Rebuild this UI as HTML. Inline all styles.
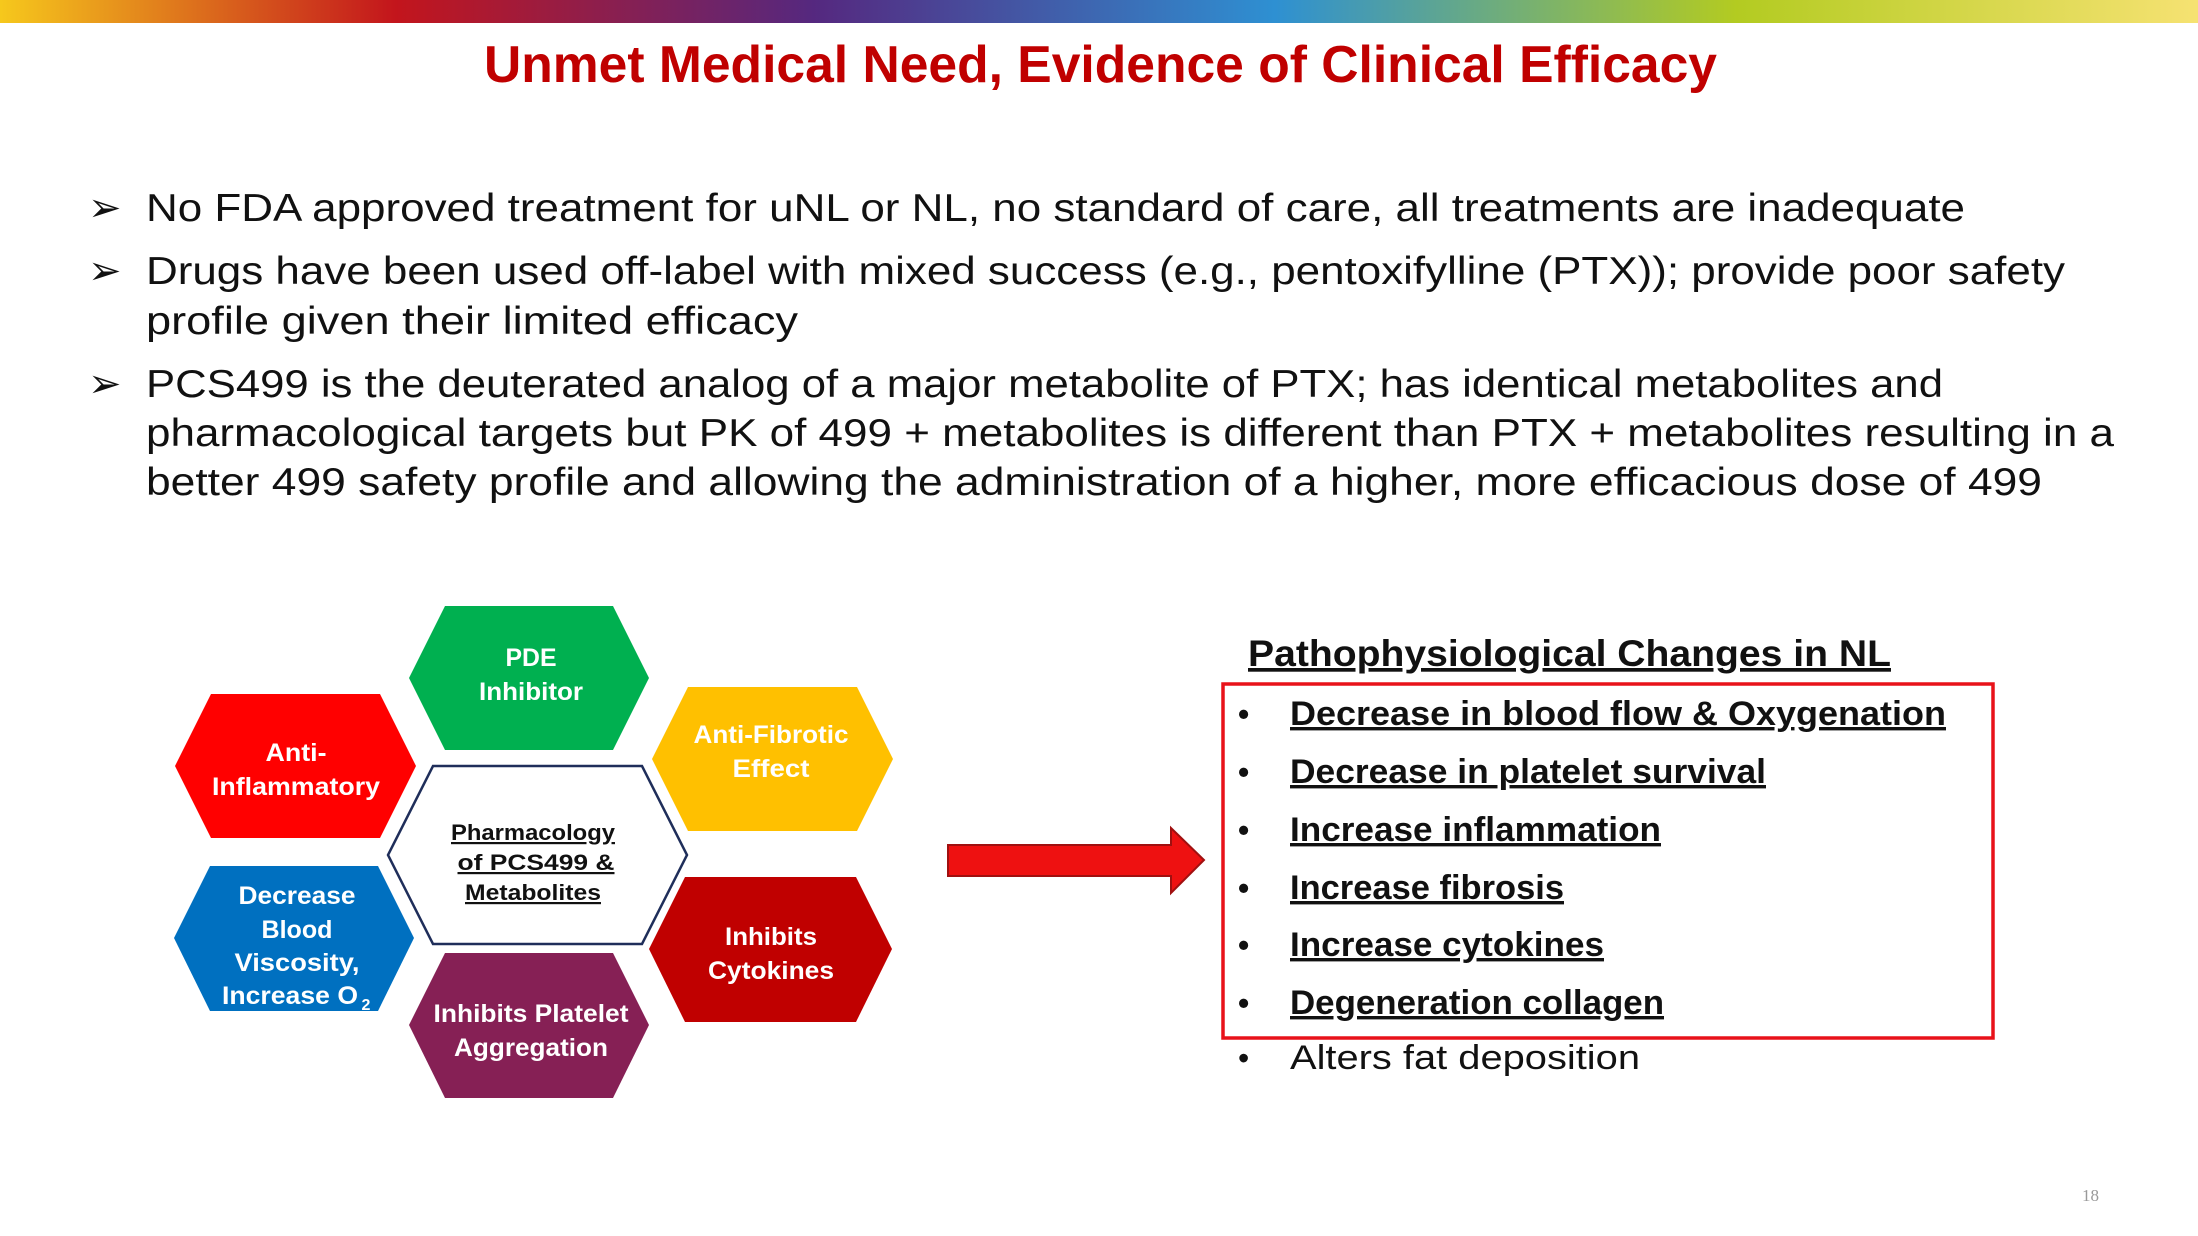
<!DOCTYPE html>
<html><head><meta charset="utf-8"><style>
html,body{margin:0;padding:0;background:#fff;}
svg{display:block;}
</style></head><body>
<svg width="2198" height="1236" viewBox="0 0 2198 1236" xmlns="http://www.w3.org/2000/svg" font-family="Liberation Sans, Arial, sans-serif">
<defs>
<linearGradient id="bar" x1="0" x2="1" y1="0" y2="0">
<stop offset="0" stop-color="#F6C81C"/>
<stop offset="0.18" stop-color="#C3151C"/>
<stop offset="0.37" stop-color="#55287F"/>
<stop offset="0.58" stop-color="#2E90D2"/>
<stop offset="0.79" stop-color="#B3CB21"/>
<stop offset="1" stop-color="#F6E272"/>
</linearGradient>
</defs>
<rect x="0" y="0" width="2198" height="23" fill="url(#bar)"/>
<text x="484" y="82" font-size="52" font-weight="bold" fill="#C00000" textLength="1233" lengthAdjust="spacingAndGlyphs">Unmet Medical Need, Evidence of Clinical Efficacy</text>

<g font-size="39" fill="#111">
<text x="88" y="221" font-size="40">➢</text>
<text x="146" y="221" textLength="1819" lengthAdjust="spacingAndGlyphs">No FDA approved treatment for uNL or NL, no standard of care, all treatments are inadequate</text>
<text x="88" y="284" font-size="40">➢</text>
<text x="146" y="284" textLength="1919" lengthAdjust="spacingAndGlyphs">Drugs have been used off-label with mixed success (e.g., pentoxifylline (PTX)); provide poor safety</text>
<text x="146" y="334" textLength="652" lengthAdjust="spacingAndGlyphs">profile given their limited efficacy</text>
<text x="88" y="397" font-size="40">➢</text>
<text x="146" y="397" textLength="1797" lengthAdjust="spacingAndGlyphs">PCS499 is the deuterated analog of a major metabolite of PTX; has identical metabolites and</text>
<text x="146" y="446" textLength="1968" lengthAdjust="spacingAndGlyphs">pharmacological targets but PK of 499 + metabolites is different than PTX + metabolites resulting in a</text>
<text x="146" y="495" textLength="1896" lengthAdjust="spacingAndGlyphs">better 499 safety profile and allowing the administration of a higher, more efficacious dose of 499</text>
</g>

<polygon points="445,606 613,606 649,678 613,750 445,750 409,678" fill="#00B050"/>
<polygon points="211,694 380,694 416,766 380,838 211,838 175,766" fill="#FF0000"/>
<polygon points="688,687 857,687 893,759 857,831 688,831 652,759" fill="#FFC000"/>
<polygon points="210,866 378,866 414,938 378,1011 210,1011 174,938" fill="#0070C0"/>
<polygon points="445,953 613,953 649,1025 613,1098 445,1098 409,1025" fill="#862055"/>
<polygon points="685,877 856,877 892,949 856,1022 685,1022 649,949" fill="#C00000"/>
<polygon points="433,766 642,766 687,855 642,944 433,944 388,855" fill="#fff" stroke="#1F2E5A" stroke-width="2.5"/>

<g font-size="25" font-weight="bold" fill="#fff" text-anchor="middle">
<text x="531" y="666" textLength="51" lengthAdjust="spacingAndGlyphs">PDE</text>
<text x="531" y="700" textLength="104" lengthAdjust="spacingAndGlyphs">Inhibitor</text>
<text x="296" y="761" textLength="61" lengthAdjust="spacingAndGlyphs">Anti-</text>
<text x="296" y="795" textLength="168" lengthAdjust="spacingAndGlyphs">Inflammatory</text>
<text x="771" y="743" textLength="155" lengthAdjust="spacingAndGlyphs">Anti-Fibrotic</text>
<text x="771" y="777" textLength="77" lengthAdjust="spacingAndGlyphs">Effect</text>
<text x="297" y="904" textLength="117" lengthAdjust="spacingAndGlyphs">Decrease</text>
<text x="297" y="938" textLength="71" lengthAdjust="spacingAndGlyphs">Blood</text>
<text x="297" y="971" textLength="125" lengthAdjust="spacingAndGlyphs">Viscosity,</text>
<text x="290" y="1004" textLength="136" lengthAdjust="spacingAndGlyphs">Increase O</text>
<text x="366" y="1010" font-size="16">2</text>
<text x="531" y="1022" textLength="195" lengthAdjust="spacingAndGlyphs">Inhibits Platelet</text>
<text x="531" y="1056" textLength="154" lengthAdjust="spacingAndGlyphs">Aggregation</text>
<text x="771" y="945" textLength="92" lengthAdjust="spacingAndGlyphs">Inhibits</text>
<text x="771" y="979" textLength="126" lengthAdjust="spacingAndGlyphs">Cytokines</text>
</g>
<g font-size="22" font-weight="bold" fill="#111" text-anchor="middle" text-decoration="underline">
<text x="533" y="840" textLength="164" lengthAdjust="spacingAndGlyphs">Pharmacology</text>
<text x="536" y="870" textLength="157" lengthAdjust="spacingAndGlyphs">of PCS499 &amp;</text>
<text x="533" y="900" textLength="136" lengthAdjust="spacingAndGlyphs">Metabolites</text>
</g>

<polygon points="948,845 1171,845 1171,828 1204,860 1171,893 1171,876 948,876" fill="#EE1111" stroke="#A01010" stroke-width="2"/>

<text x="1248" y="666" font-size="37" font-weight="bold" fill="#111" text-decoration="underline" textLength="643" lengthAdjust="spacingAndGlyphs">Pathophysiological Changes in NL</text>
<rect x="1223" y="684" width="770" height="354" fill="none" stroke="#E8121A" stroke-width="3.5"/>
<g font-size="34" font-weight="bold" fill="#111">
<text x="1238" y="725" font-size="32">•</text>
<text x="1290" y="725" textLength="656" lengthAdjust="spacingAndGlyphs" text-decoration="underline">Decrease in blood flow &amp; Oxygenation</text>
<text x="1238" y="783" font-size="32">•</text>
<text x="1290" y="783" textLength="476" lengthAdjust="spacingAndGlyphs" text-decoration="underline">Decrease in platelet survival</text>
<text x="1238" y="841" font-size="32">•</text>
<text x="1290" y="841" textLength="371" lengthAdjust="spacingAndGlyphs" text-decoration="underline">Increase inflammation</text>
<text x="1238" y="899" font-size="32">•</text>
<text x="1290" y="899" textLength="274" lengthAdjust="spacingAndGlyphs" text-decoration="underline">Increase fibrosis</text>
<text x="1238" y="956" font-size="32">•</text>
<text x="1290" y="956" textLength="314" lengthAdjust="spacingAndGlyphs" text-decoration="underline">Increase cytokines</text>
<text x="1238" y="1014" font-size="32">•</text>
<text x="1290" y="1014" textLength="374" lengthAdjust="spacingAndGlyphs" text-decoration="underline">Degeneration collagen</text>
<text x="1238" y="1069" font-size="32" font-weight="normal">•</text>
<text x="1290" y="1069" font-weight="normal" textLength="350" lengthAdjust="spacingAndGlyphs">Alters fat deposition</text>
</g>
<text x="2082" y="1201" font-size="17" fill="#999" font-family="Liberation Serif, serif">18</text>
</svg>
</body></html>
